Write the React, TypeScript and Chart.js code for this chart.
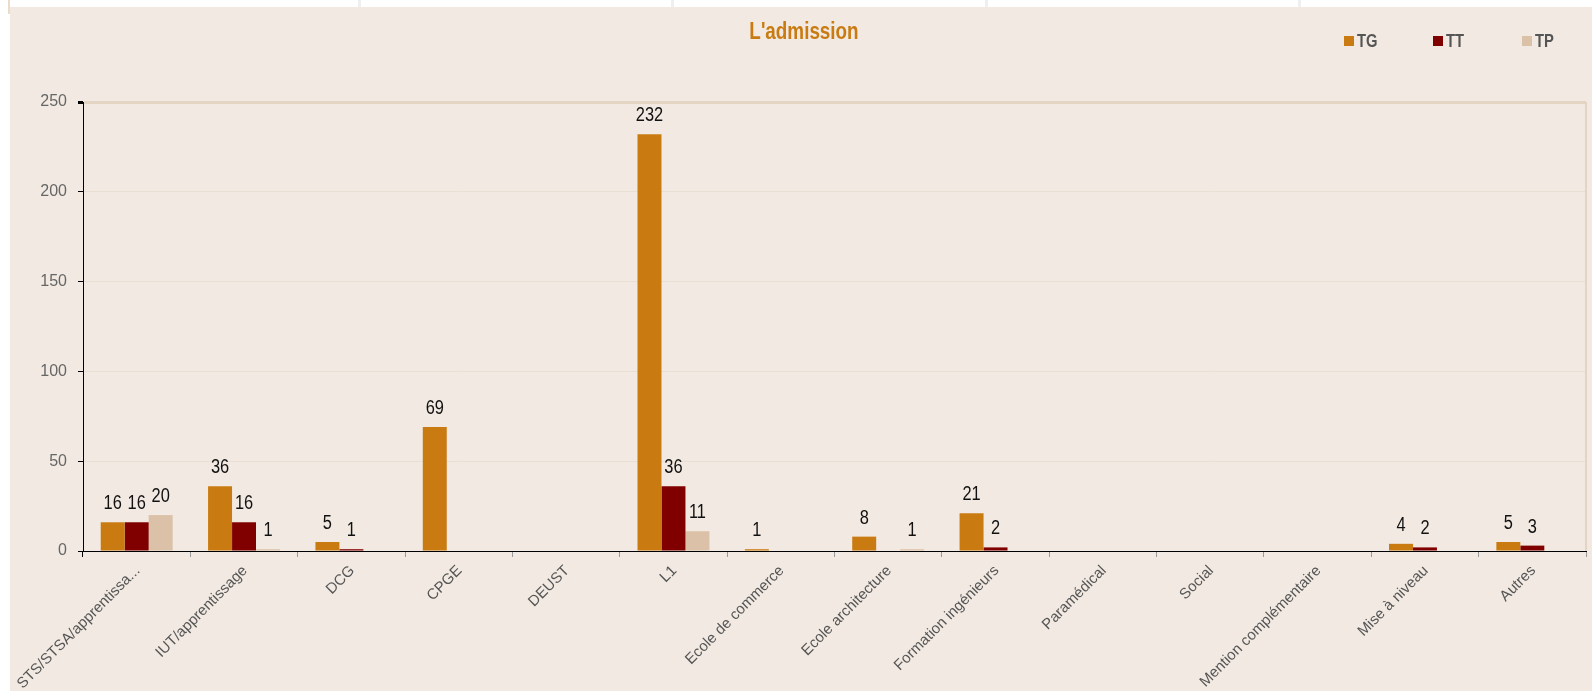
import React, { useEffect, useRef } from "react";
import { Chart, registerables } from "chart.js";

Chart.register(...registerables);

const categories = [
  "STS/STSA/apprentissa...",
  "IUT/apprentissage",
  "DCG",
  "CPGE",
  "DEUST",
  "L1",
  "Ecole de commerce",
  "Ecole architecture",
  "Formation ingénieurs",
  "Paramédical",
  "Social",
  "Mention complémentaire",
  "Mise à niveau",
  "Autres",
];
const tgValues = [16, 36, 5, 69, 0, 232, 1, 8, 21, 0, 0, 0, 4, 5];
const ttValues = [16, 16, 1, 0, 0, 36, 0, 0, 2, 0, 0, 0, 2, 3];
const tpValues = [20, 1, 0, 0, 0, 11, 0, 1, 0, 0, 0, 0, 0, 0];
const seriesNames = ["TG", "TT", "TP"];
const seriesColors = ["#C97B12", "#800000", "#DBC1A7"];
const yMin = 0;
const yMax = 250;
const yStep = 50;
const chartTitle = "L'admission";

const SANS = "'Liberation Sans', Arial, sans-serif";

function narrowText(ctx: CanvasRenderingContext2D, text: string, x: number, y: number, align: CanvasTextAlign, sx: number) {
  ctx.save();
  ctx.translate(x, y);
  ctx.scale(sx, 1);
  ctx.textAlign = align;
  ctx.textBaseline = "alphabetic";
  ctx.fillText(text, 0, 0);
  ctx.restore();
}

const decorPlugin = {
  id: "decor",
  afterDatasetsDraw(chart: any) {
    const { ctx, chartArea } = chart;
    ctx.save();
    // right border of plot area
    ctx.strokeStyle = "#E4D4C4";
    ctx.lineWidth = 2;
    ctx.beginPath();
    ctx.moveTo(chartArea.right, chartArea.top);
    ctx.lineTo(chartArea.right, chartArea.bottom);
    ctx.stroke();
    // data labels
    ctx.font = `20px ${SANS}`;
    ctx.fillStyle = "#111111";
    chart.data.datasets.forEach((ds: any, di: number) => {
      const meta = chart.getDatasetMeta(di);
      meta.data.forEach((el: any, i: number) => {
        const v = ds.data[i];
        if (v > 0) narrowText(ctx, String(v), el.x, el.y - 13, "center", 0.82);
      });
    });
    ctx.restore();
  },
  afterDraw(chart: any) {
    const { ctx } = chart;
    ctx.save();
    // title
    ctx.font = `bold 23px ${SANS}`;
    ctx.fillStyle = "#C97B12";
    narrowText(ctx, chartTitle, 794, 32, "center", 0.82);
    // legend
    ctx.font = `bold 18px ${SANS}`;
    chart.data.datasets.forEach((ds: any, i: number) => {
      const x = 1334 + i * 89;
      ctx.fillStyle = ds.backgroundColor;
      ctx.fillRect(x, 29, 10, 10);
      ctx.fillStyle = "#555555";
      narrowText(ctx, ds.label, x + 13, 40, "left", 0.82);
    });
    ctx.restore();
  },
};

export default function App() {
  const canvasRef = useRef<HTMLCanvasElement | null>(null);

  useEffect(() => {
    if (!canvasRef.current) return;
    const seriesValues = [tgValues, ttValues, tpValues];
    const chart = new Chart(canvasRef.current, {
      type: "bar",
      data: {
        labels: categories,
        datasets: seriesNames.map((name, i) => ({
          label: name,
          data: seriesValues[i],
          backgroundColor: seriesColors[i],
          borderWidth: 0,
          barPercentage: 1,
          categoryPercentage: 0.67,
        })),
      },
      options: {
        animation: false,
        responsive: false,
        maintainAspectRatio: false,
        layout: { padding: { top: 95, right: 6, left: 0, bottom: 0 } },
        plugins: {
          legend: { display: false },
          title: { display: false },
          tooltip: { enabled: false },
        },
        scales: {
          x: {
            afterFit: (s: any) => {
              s.height = 140;
              s.paddingLeft = 0;
              s.paddingRight = 0;
            },
            border: { color: "#000000", width: 1 },
            grid: {
              drawOnChartArea: false,
              drawTicks: true,
              tickLength: 6,
              tickColor: (c: any) =>
                c.index === 0 || c.index === categories.length ? "#000000" : "#999999",
            },
            ticks: {
              autoSkip: false,
              minRotation: 45,
              maxRotation: 45,
              labelOffset: 1,
              padding: 5,
              color: "#555555",
              font: { family: SANS, size: 15 },
            },
          },
          y: {
            min: yMin,
            max: yMax,
            afterFit: (s: any) => {
              s.width = 73;
            },
            border: { color: "#000000", width: 1 },
            grid: {
              color: (c: any) => (c.tick && c.tick.value === yMax ? "#E4D4C4" : "#EADFD3"),
              lineWidth: (c: any) => (c.tick && c.tick.value === yMax ? 3 : 1),
              tickColor: "#000000",
              tickLength: 5,
            },
            ticks: {
              stepSize: yStep,
              padding: 11,
              color: "#666666",
              font: { family: SANS, size: 16 },
            },
          },
        },
      },
      plugins: [decorPlugin],
    } as any);
    return () => chart.destroy();
  }, []);

  return (
    <div
      style={{
        position: "fixed",
        left: 0,
        top: 0,
        width: 1592,
        height: 691,
        background: "#FFFFFF",
        overflow: "hidden",
      }}
    >
      <div style={{ position: "absolute", left: 8, top: 0, width: 2, height: 14, background: "#EADBCB" }} />
      {[358, 671, 985, 1298].map((x) => (
        <div key={x} style={{ position: "absolute", left: x, top: 0, width: 3, height: 7, background: "#EFEFEF" }} />
      ))}
      <div
        style={{
          position: "absolute",
          left: 10,
          top: 7,
          width: 1582,
          height: 684,
          background: "#F2EAE2",
        }}
      >
        <canvas ref={canvasRef} width={1582} height={684} style={{ display: "block" }} />
      </div>
    </div>
  );
}
